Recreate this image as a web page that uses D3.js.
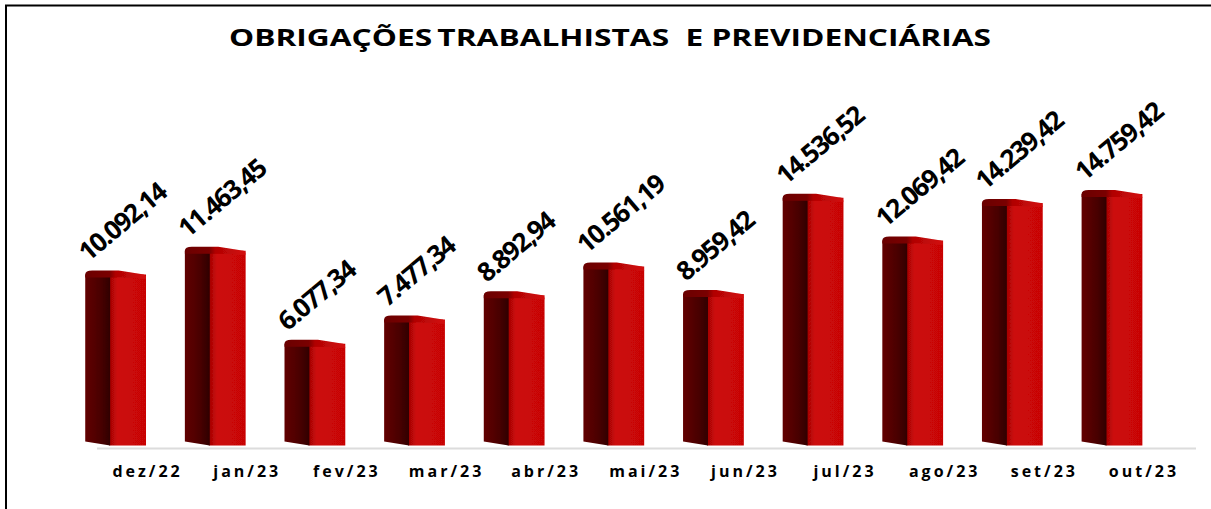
<!DOCTYPE html>
<html>
<head>
<meta charset="utf-8">
<script src="https://cdnjs.cloudflare.com/ajax/libs/d3/7.8.5/d3.min.js"></script>
<style>
html, body { margin: 0; padding: 0; background: #fff; }
svg { display: block; }
text { font-family: "Open Sans", sans-serif; fill: #000; }
</style>
</head>
<body>
<div id="chart"></div>
<script>
var months = ["dez/22", "jan/23", "fev/23", "mar/23", "abr/23", "mai/23", "jun/23", "jul/23", "ago/23", "set/23", "out/23"];
var values = [10092.14, 11463.45, 6077.34, 7477.34, 8892.94, 10561.19, 8959.42, 14536.52, 12069.42, 14239.42, 14759.42];
var labels = ["10.092,14", "11.463,45", "6.077,34", "7.477,34", "8.892,94", "10.561,19", "8.959,42", "14.536,52", "12.069,42", "14.239,42", "14.759,42"];

var width = 1211, height = 509;
var baseline = 445.5;

var svg = d3.select("#chart").append("svg")
	.attr("width", width)
	.attr("height", height);

var x = d3.scaleBand().domain(months).range([65.3, 1162.3]).paddingInner(0.39).paddingOuter(0.2);
var y = d3.scaleLinear().domain([0, 14759.42]).range([baseline, 191]);

var defs = svg.append("defs");
var blur = defs.append("filter").attr("id", "soft");
blur.append("feGaussianBlur").attr("stdDeviation", 0.7);

function gradient(id, stops){
	var g = defs.append("linearGradient").attr("id", id);
	stops.forEach(function(s){
		g.append("stop").attr("offset", s[0]).attr("stop-color", s[1]);
	});
}
gradient("front", [["0%", "#a00505"], ["22%", "#cc0808"], ["100%", "#c80606"]]);
gradient("side", [["0%", "#620404"], ["60%", "#4a0000"], ["100%", "#300000"]]);
gradient("cap", [["0%", "#6a0404"], ["40%", "#7a0202"], ["50%", "#b00505"], ["100%", "#d40a0a"]]);

// only the top and left edges of the frame are in the picture
svg.append("path")
	.attr("d", "M6,509V5.5H1211")
	.attr("fill", "none")
	.attr("stroke", "#000")
	.attr("stroke-width", 2);

svg.append("line")
	.attr("x1", 97).attr("x2", 1196)
	.attr("y1", 448.5).attr("y2", 448.5)
	.attr("stroke", "#dcdcdc")
	.attr("stroke-width", 2);

var bars = svg.selectAll(".bar").data(months).enter().append("g")
	.attr("class", "bar")
	.attr("filter", "url(#soft)");

bars.each(function(d, i){
	var g = d3.select(this);
	var left = x(d);
	var w = x.bandwidth();
	var split = left + w * 0.41;
	var top = y(values[i]);

	// front face goes first so the side overlaps the seam
	g.append("path")
		.attr("d", "M" + (split - 1) + "," + (top + 3) + "H" + (left + w) + "V" + baseline + "H" + (split - 1) + "Z")
		.attr("fill", "url(#front)");
	// side face, raised at the foot
	g.append("path")
		.attr("d", "M" + left + "," + (top + 3) + "V" + (baseline - 4) + "L" + split + "," + baseline + "V" + (top + 3) + "Z")
		.attr("fill", "url(#side)");
	// rounded cap
	g.append("path")
		.attr("d", "M" + left + "," + (top + 6) + "V" + (top + 3) + "Q" + left + "," + (top - 1) + " " + (left + 7) + "," + (top - 1)
			+ "H" + (left + w * 0.55) + "L" + (left + w - 2) + "," + (top + 3) + "Q" + (left + w) + "," + (top + 4) + " " + (left + w) + "," + (top + 7)
			+ "L" + (left + w * 0.55) + "," + (top + 6) + "Z")
		.attr("fill", "url(#cap)");
});

svg.selectAll(".value").data(months).enter().append("text")
	.attr("class", "value")
	.attr("transform", function(d, i){
		return "translate(" + (x(d) + 3) + "," + (y(values[i]) - 9) + ") rotate(-40)";
	})
	.style("font-size", "26px")
	.style("font-weight", "700")
	.style("letter-spacing", "-1.6px")
	.text(function(d, i){ return labels[i]; });

svg.selectAll(".month").data(months).enter().append("text")
	.attr("class", "month")
	.attr("x", function(d){ return x(d) + x.bandwidth() / 2 + 32; })
	.attr("y", 477)
	.attr("text-anchor", "middle")
	.style("font-size", "16px")
	.style("font-weight", "700")
	.style("letter-spacing", "3px")
	.text(function(d){ return d; });

var title = svg.append("text")
	.attr("x", 229).attr("y", 46)
	.attr("textLength", 762)
	.attr("lengthAdjust", "spacingAndGlyphs")
	.style("font-size", "24px")
	.style("font-weight", "700")
	.style("white-space", "pre");
title.append("tspan").text("OBRIGAÇÕES");
title.append("tspan").attr("dx", 4).text("TRABALHISTAS  E PREVIDENCIÁRIAS");
</script>
</body>
</html>
